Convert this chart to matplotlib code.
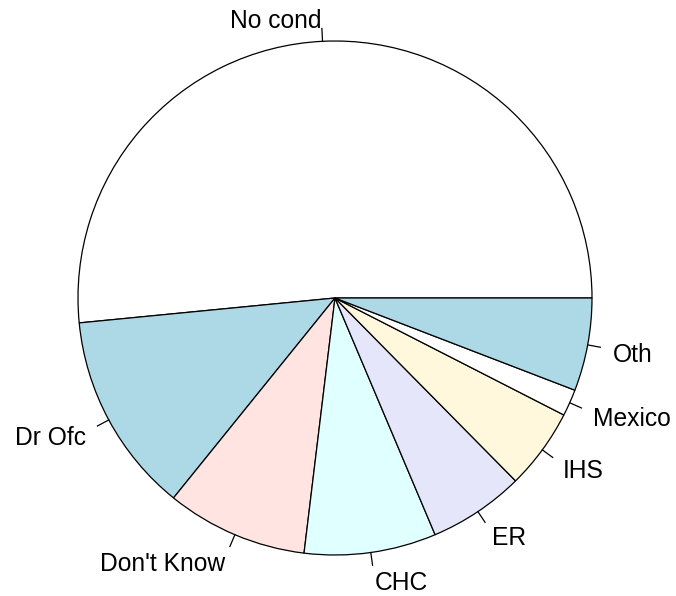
import numpy as np
import matplotlib
matplotlib.use("Agg")
import matplotlib.pyplot as plt

plt.rcParams['font.family'] = ['Liberation Sans', 'DejaVu Sans']

# share of respondents by usual place of care (percent)
labels = ["No cond", "Dr Ofc", "Don't Know", "CHC", "ER", "IHS", "Mexico", "Oth"]
shares = [51.54, 12.64, 8.89, 8.29, 6.03, 5.08, 1.68, 5.84]

# R's default pie palette, recycled
palette = ["white", "lightblue", "mistyrose", "lightcyan", "lavender", "cornsilk"]
colors = [palette[i % len(palette)] for i in range(len(shares))]

W, H = 676, 596
cx, cy, rad = 335, 298, 257

fig = plt.figure(figsize=(W / 100, H / 100), dpi=100)
ax = fig.add_axes([0, 0, 1, 1])

ax.pie(shares, colors=colors, startangle=0, counterclock=True, radius=1,
       wedgeprops=dict(edgecolor="black", linewidth=0.9))

# labels outside the pie, with short tick marks like base R
cum = np.cumsum([0] + shares) / sum(shares)
for i, lab in enumerate(labels):
    mid = 2 * np.pi * (cum[i] + cum[i + 1]) / 2
    ux, uy = np.cos(mid), np.sin(mid)
    ax.plot([ux, 1.05 * ux], [uy, 1.05 * uy], color="black", lw=0.9)
    ha = "left" if ux > 0 else "right"
    ax.annotate(lab, (1.1 * ux, 1.1 * uy), xytext=(0, -12.5),
                textcoords="offset pixels", ha=ha, va="baseline",
                fontsize=17.7)

# pie() resets the limits, so place the circle afterwards
ax.set_xlim(-cx / rad, (W - cx) / rad)
ax.set_ylim(-(H - cy) / rad, cy / rad)
ax.set_aspect("equal")
ax.axis("off")
fig.savefig("out.png", dpi=100)
